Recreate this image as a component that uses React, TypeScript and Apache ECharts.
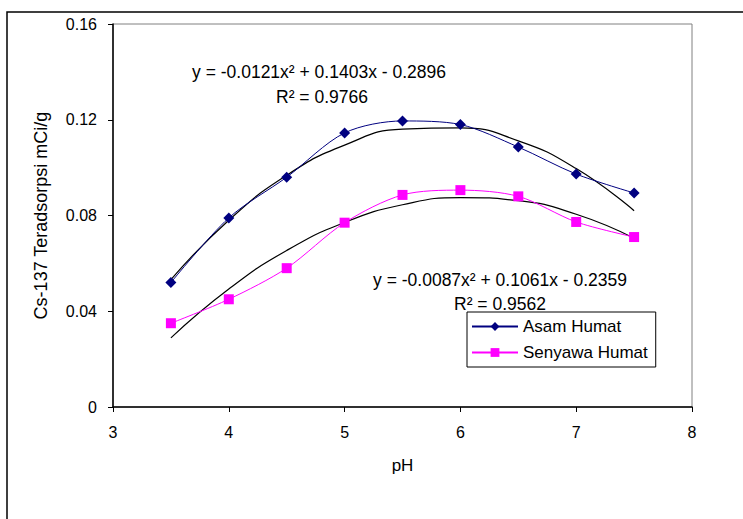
import React, { useEffect, useRef } from "react";
import * as echarts from "echarts";

const phValues = [3.5, 4, 4.5, 5, 5.5, 6, 6.5, 7, 7.5];
const asamHumat = [0.052, 0.079, 0.096, 0.1145, 0.1195, 0.118, 0.1086, 0.0973, 0.0894];
const senyawaHumat = [0.035, 0.045, 0.058, 0.077, 0.0886, 0.0906, 0.088, 0.0773, 0.071];
const asamTrend = [0.0532, 0.078, 0.0968, 0.1094, 0.1161, 0.1166, 0.1112, 0.0996, 0.082];
const senyawaTrend = [0.0289, 0.0493, 0.0654, 0.0771, 0.0845, 0.0875, 0.0862, 0.0805, 0.0705];
const yTicks = [0, 0.04, 0.08, 0.12, 0.16];
const xTicks = [3, 4, 5, 6, 7, 8];
const seriesNames = ["Asam Humat", "Senyawa Humat"];
const eq1 = ["y = -0.0121x\u00b2 + 0.1403x - 0.2896", "R\u00b2 = 0.9766"];
const eq2 = ["y = -0.0087x\u00b2 + 0.1061x - 0.2359", "R\u00b2 = 0.9562"];

const FONT = "Liberation Sans, Arial, sans-serif";

export default function App() {
  const ref = useRef<HTMLDivElement>(null);
  useEffect(() => {
    if (!ref.current) return;
    const chart = echarts.init(ref.current, null, { renderer: "svg" });
    const pairs = (ys: number[]) => phValues.map((x, i) => [x, ys[i]]);
    const eqText = (text: string, x: number, y: number) => ({
      type: "text",
      x,
      y,
      z: 1,
      style: {
        text,
        fill: "#000",
        font: `17.5px ${FONT}`,
        textAlign: "center",
        textVerticalAlign: "middle",
      },
    });
    chart.setOption({
      animation: false,
      backgroundColor: "#fff",
      textStyle: { fontFamily: FONT },
      grid: {
        left: 113,
        right: 51,
        top: 24,
        bottom: 112,
        show: true,
        borderColor: "#808080",
        borderWidth: 1,
      },
      xAxis: {
        type: "value",
        min: xTicks[0],
        max: xTicks[xTicks.length - 1],
        interval: 1,
        name: "pH",
        nameLocation: "middle",
        nameGap: 50,
        nameTextStyle: { color: "#000", fontSize: 17, fontFamily: FONT },
        axisLine: { lineStyle: { color: "#000", width: 1.5 } },
        axisTick: { show: true, length: 5, lineStyle: { color: "#000" } },
        axisLabel: { color: "#000", fontSize: 16, fontFamily: FONT, margin: 17 },
        splitLine: { show: false },
      },
      yAxis: {
        type: "value",
        min: yTicks[0],
        max: yTicks[yTicks.length - 1],
        interval: 0.04,
        name: "Cs-137 Teradsorpsi mCi/g",
        nameLocation: "middle",
        nameGap: 63,
        nameRotate: 90,
        nameTextStyle: { color: "#000", fontSize: 18, fontFamily: FONT },
        axisLine: { show: true, lineStyle: { color: "#000", width: 1.5 } },
        axisTick: { show: true, length: 5, lineStyle: { color: "#000" } },
        axisLabel: {
          color: "#000",
          fontSize: 16,
          fontFamily: FONT,
          margin: 16,
          formatter: (v: number) => (v === 0 ? "0" : v.toFixed(2)),
        },
        splitLine: { show: false },
      },
      legend: {
        data: seriesNames,
        orient: "vertical",
        left: 467,
        top: 312,
        itemWidth: 46,
        itemHeight: 11,
        itemGap: 9,
        padding: [6, 8, 6, 4],
        backgroundColor: "#fff",
        borderColor: "#000",
        borderWidth: 1,
        borderRadius: 0,
        z: 5,
        textStyle: { color: "#000", fontSize: 17, fontFamily: FONT },
      },
      series: [
        {
          name: seriesNames[0],
          type: "line",
          data: pairs(asamHumat),
          smooth: 0.3,
          symbol: "diamond",
          symbolSize: 11,
          itemStyle: { color: "#000080" },
          lineStyle: { color: "#000080", width: 1 },
          z: 3,
        },
        {
          name: seriesNames[1],
          type: "line",
          data: pairs(senyawaHumat),
          smooth: 0.3,
          symbol: "rect",
          symbolSize: 10,
          itemStyle: { color: "#FF00FF" },
          lineStyle: { color: "#FF00FF", width: 1 },
          z: 3,
        },
        {
          name: "trend1",
          type: "line",
          data: pairs(asamTrend),
          smooth: 0.5,
          symbol: "none",
          lineStyle: { color: "#000", width: 1.2 },
          z: 2,
        },
        {
          name: "trend2",
          type: "line",
          data: pairs(senyawaTrend),
          smooth: 0.5,
          symbol: "none",
          lineStyle: { color: "#000", width: 1.2 },
          z: 2,
        },
      ],
      graphic: [
        {
          type: "rect",
          shape: { x: 7, y: 12, width: 800, height: 600 },
          style: { fill: "none", stroke: "#000", lineWidth: 1.5 },
          silent: true,
          z: 10,
        },
        eqText(eq1[0], 319, 72),
        eqText(eq1[1], 322, 97),
        eqText(eq2[0], 500, 280),
        eqText(eq2[1], 500, 304),
      ],
    });
    return () => chart.dispose();
  }, []);
  return <div ref={ref} style={{ width: 743, height: 519, position: "absolute", left: 0, top: 0 }} />;
}
